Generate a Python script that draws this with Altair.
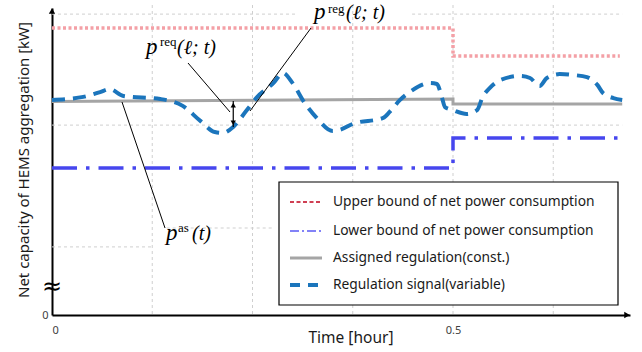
import altair as alt
import pandas as pd

# ---------------- data (time in hours, power in arbitrary kW units) ----------------
sig_t = [0, 0.039, 0.060, 0.072, 0.089, 0.135, 0.163, 0.185, 0.203, 0.213, 0.226, 0.243,
         0.256, 0.276, 0.288, 0.300, 0.315, 0.330, 0.350, 0.359, 0.375, 0.413, 0.421, 0.434,
         0.446, 0.471, 0.480, 0.486, 0.490, 0.500, 0.517, 0.530, 0.537, 0.546, 0.559, 0.584,
         0.596, 0.608, 0.617, 0.633, 0.650, 0.667, 0.680, 0.687, 0.700, 0.711]
sig_p = [7.17, 7.27, 7.43, 7.53, 7.30, 7.20, 6.97, 6.47, 6.10, 6.07, 6.27, 6.83,
         7.27, 7.73, 8.07, 7.73, 7.07, 6.57, 6.13, 6.17, 6.37, 6.57, 6.77, 7.17,
         7.43, 7.73, 7.70, 7.27, 6.93, 6.83, 6.70, 6.83, 7.27, 7.57, 7.83, 7.97,
         7.90, 7.63, 7.90, 8.03, 8.00, 7.93, 7.67, 7.40, 7.23, 7.17]

upper_t = [0, 0.5, 0.5, 0.708]
upper_p = [9.57, 9.57, 8.63, 8.63]
lower_t = [0, 0.5, 0.5, 0.712]
lower_p = [4.90, 4.90, 5.90, 5.90]
assigned_t = [0, 0.5, 0.5, 0.711]
assigned_p = [7.12, 7.20, 7.03, 7.03]

grid_t = [0.125, 0.25, 0.375, 0.5, 0.625]
hgrid_start = [0, 0.449, 0, 0, 0.143]
hgrid_end = [0.303, 0.711, 0.711, 0.125, 0.276]
hgrid_p = [10.03, 10.03, 6.33, 2.27, 2.90]

x_ticks = [0, 0.5]
y_ticks = [0]

req_t = [0.226]
req_top = [7.13]
req_bottom = [6.27]

legend_labels = ["Upper bound of net power consumption",
                 "Lower bound of net power consumption",
                 "Assigned regulation(const.)",
                 "Regulation signal(variable)"]

# ---------------- scales / axes ----------------
W, H = 578, 307
xs = alt.Scale(domain=[0, 578 / 802], nice=False, zero=False)
ys = alt.Scale(domain=[0, 307 / 30], nice=False, zero=False)
x_axis = alt.Axis(values=x_ticks, format="~g", ticks=False, grid=False, domain=True,
                  domainColor="black", domainWidth=2, labelFontSize=11, labelColor="#404040",
                  labelFont="Noto Sans", labelPadding=9, title=None)
y_axis = alt.Axis(values=y_ticks, format="~g", ticks=False, grid=False, domain=True,
                  domainColor="black", domainWidth=2, labelFontSize=11, labelColor="#404040",
                  labelFont="Noto Sans", labelPadding=4, title=None)
X = alt.X("t:Q", scale=xs, axis=x_axis)
Y = alt.Y("p:Q", scale=ys, axis=y_axis)

one = pd.DataFrame({"d": [0]})

# grid
vgrid = alt.Chart(pd.DataFrame({"t": grid_t})).mark_rule(
    color="#cfcfcf", strokeWidth=1, strokeDash=[3, 3]
).encode(x=X, y=alt.value(-3), y2=alt.value(H))

hgrid = alt.Chart(pd.DataFrame({"t": hgrid_start, "t2": hgrid_end, "p": hgrid_p})).mark_rule(
    color="#cfcfcf", strokeWidth=1, strokeDash=[3, 3]
).encode(x=X, x2="t2:Q", y=Y)

# series
upper = alt.Chart(pd.DataFrame({"t": upper_t, "p": upper_p})).mark_line(
    color="#f4a0a6", strokeWidth=3.5, strokeDash=[3, 2.5], strokeCap="butt"
).encode(x=X, y=Y, order=alt.Order("i:Q")).transform_window(i="row_number()")

lower = alt.Chart(pd.DataFrame({"t": lower_t, "p": lower_p})).mark_line(
    color="#4646ee", strokeWidth=3.5, strokeDash=[25, 9, 3.5, 9], strokeCap="butt"
).encode(x=X, y=Y, order=alt.Order("i:Q")).transform_window(i="row_number()")

assigned = alt.Chart(pd.DataFrame({"t": assigned_t, "p": assigned_p})).mark_line(
    color="#a5a5a5", strokeWidth=3
).encode(x=X, y=Y, order=alt.Order("i:Q")).transform_window(i="row_number()")

signal = alt.Chart(pd.DataFrame({"t": sig_t, "p": sig_p})).mark_line(
    color="#1b75bc", strokeWidth=4, strokeDash=[13, 8], interpolate="monotone", strokeCap="butt"
).encode(x=X, y=Y)

# double-headed arrow for p_req
req_df = pd.DataFrame({"t": req_t, "p": req_top, "p2": req_bottom})
req_line = alt.Chart(req_df).mark_rule(color="black", strokeWidth=1.2).encode(
    x=X, y=Y, y2="p2:Q")
req_head_top = alt.Chart(req_df).mark_point(
    shape="triangle-up", filled=True, color="black", opacity=1, size=28, yOffset=4
).encode(x=X, y=Y)
req_head_bot = alt.Chart(req_df).mark_point(
    shape="triangle-down", filled=True, color="black", opacity=1, size=28, yOffset=-4
).encode(x=X, y=alt.Y("p2:Q", scale=ys, axis=y_axis))

# leader lines
def leader(x1, y1, x2, y2):
    return alt.Chart(one).mark_rule(color="black", strokeWidth=1).encode(
        x=alt.value(x1), y=alt.value(y1), x2=alt.value(x2), y2=alt.value(y2))

leaders = [leader(70, 94, 113, 220), leader(136, 55, 178, 104), leader(259, 20, 198, 103)]

# math labels
def mtext(txt, x, y, size, italic=True):
    return alt.Chart(one).mark_text(
        text=txt, font="Liberation Serif", fontSize=size,
        fontStyle="italic" if italic else "normal", align="left", baseline="alphabetic",
        color="black"
    ).encode(x=alt.value(x), y=alt.value(y))

math = [
    mtext("p", 262, 11, 23), mtext("reg", 276, 5, 13, False), mtext("(ℓ; t)", 294, 11, 20),
    mtext("p", 94, 46, 23), mtext("req", 108, 38, 13, False), mtext("(ℓ; t)", 125, 46, 20),
    mtext("p", 114, 232, 23), mtext("as", 126, 224, 13, False), mtext("(t)", 140, 232, 20),
]

# axis arrows and break mark
arrow_up = alt.Chart(one).mark_point(shape="triangle-up", filled=True, color="black",
                                     opacity=1, size=40).encode(x=alt.value(0), y=alt.value(3))
arrow_right = alt.Chart(one).mark_point(shape="triangle-right", filled=True, color="black",
                                        opacity=1, size=40).encode(x=alt.value(W - 3), y=alt.value(H))
break_mark = alt.Chart(one).mark_text(text="≈", fontSize=24, font="DejaVu Sans", color="black",
                                      align="center", baseline="middle").encode(
    x=alt.value(0), y=alt.value(279))

# titles
y_title = alt.Chart(one).mark_text(
    text="Net capacity of HEMS aggregation [kW]", angle=270, font="Noto Sans", fontSize=15,
    color="#1a1a1a", align="center", baseline="middle"
).encode(x=alt.value(-28), y=alt.value(152))
x_title = alt.Chart(one).mark_text(
    text="Time [hour]", font="Noto Sans", fontSize=15.5, color="#1a1a1a",
    align="center", baseline="middle"
).encode(x=alt.value(299), y=alt.value(330))

# legend
legend_box = alt.Chart(one).mark_rect(fill="white", stroke="black", strokeWidth=1.2).encode(
    x=alt.value(227), x2=alt.value(566), y=alt.value(174), y2=alt.value(297))
rows_y = [194, 223, 250, 277]
sym_styles = [
    dict(color="#c0001a", strokeWidth=1.3, strokeDash=[4, 2.5]),
    dict(color="#5a5af5", strokeWidth=1.3, strokeDash=[9, 3, 2, 3]),
    dict(color="#a5a5a5", strokeWidth=3),
    dict(color="#1b75bc", strokeWidth=4, strokeDash=[10, 8]),
]
legend_layers = [legend_box]
for lab, ry, st in zip(legend_labels, rows_y, sym_styles):
    legend_layers.append(alt.Chart(one).mark_rule(**st).encode(
        x=alt.value(238), x2=alt.value(270), y=alt.value(ry)))
    legend_layers.append(alt.Chart(one).mark_text(
        text=lab, font="Noto Sans", fontSize=13.8, color="#1a1a1a", align="left",
        baseline="middle").encode(x=alt.value(281), y=alt.value(ry)))

chart = alt.layer(
    vgrid, hgrid, upper, lower, assigned, signal,
    req_line, req_head_top, req_head_bot,
    *leaders, *math,
    *legend_layers,
    arrow_up, arrow_right, break_mark, y_title, x_title,
).properties(
    width=W, height=H,
    padding={"left": 52, "top": 8, "right": 12, "bottom": 37},
    autosize=alt.AutoSizeParams(type="none"),
    background="white",
).configure_view(stroke=None)

chart.save("out.html", embed_options={"renderer": "svg", "actions": False})
